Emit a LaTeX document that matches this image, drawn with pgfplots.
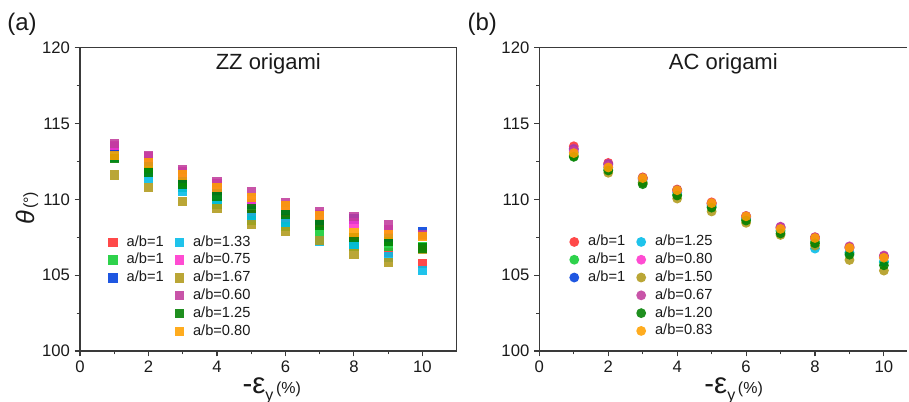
\documentclass[border=0pt]{standalone}
\usepackage{pgfplots}
\pgfplotsset{compat=1.18}
\usepackage{pgfplotstable}
\usepackage{fontspec}
\setmainfont{Liberation Sans}

\definecolor{cred}{HTML}{FF3030}
\definecolor{cgreen}{HTML}{11CC33}
\definecolor{cblue}{HTML}{0040DD}
\definecolor{ccyan}{HTML}{00BBE8}
\definecolor{cmag}{HTML}{FF33CC}
\definecolor{colive}{HTML}{B09A1A}
\definecolor{cpurp}{HTML}{C03C9C}
\definecolor{cdkgreen}{HTML}{008000}
\definecolor{corange}{HTML}{FFA000}
\definecolor{axisgray}{HTML}{3A3A3A}
\definecolor{txt}{HTML}{1A1A1A}

% ZZ origami, square markers
\pgfplotstableread{
x r g bl c m o p dg or
1 113.2 112.9 113.45 112.8 113.55 111.6 113.7 112.7 112.9
2 112.3 112.0 112.5 111.4 112.8 110.8 112.9 111.8 112.4
3 111.2 110.8 111.4 110.5 111.8 109.85 111.95 111.0 111.6
4 110.5 109.7 110.6 110.0 111.0 109.4 111.15 110.2 110.8
5 109.0 108.6 109.7 108.8 109.9 108.35 110.5 109.4 110.1
6 108.7 108.2 109.3 108.5 109.6 107.9 109.8 109.0 109.6
7 108.4 107.9 108.6 107.25 109.0 107.3 109.2 108.3 108.95
8 107.3 106.9 108.7 107.0 108.45 106.4 108.85 107.5 107.8
9 106.5 106.9 107.5 106.2 108.0 105.85 108.3 107.2 107.7
10 105.75 106.9 107.85 105.3 107.6 106.7 107.7 106.8 107.55
}\zzdata

% AC origami, round markers
\pgfplotstableread{
x r g bl c m o p dg or
1 113.5 112.85 113.3 113.1 113.2 112.9 113.35 112.8 113.05
2 112.4 111.95 112.3 112.1 112.2 111.75 112.35 111.9 112.1
3 111.45 111.1 111.4 111.3 111.35 111.1 111.4 111.0 111.4
4 110.65 110.3 110.6 110.45 110.55 110.05 110.6 110.25 110.6
5 109.8 109.5 109.7 109.6 109.7 109.2 109.75 109.45 109.75
6 108.9 108.7 108.85 108.8 108.85 108.45 108.9 108.6 108.88
7 108.1 107.9 108.15 107.95 108.15 107.65 108.2 107.75 108.05
8 107.5 107.2 107.45 106.75 107.4 106.95 107.5 107.1 107.45
9 106.85 106.45 106.8 106.5 106.8 106.0 106.9 106.35 106.8
10 106.25 105.85 106.2 105.9 106.2 105.3 106.3 105.65 106.15
}\acdata

\pgfplotsset{
  origami/.style={
    scale only axis, clip=false,
    height=227.5pt,
    xmin=0, ymin=100, ymax=120,
    xtick={0,2,...,10}, ytick={100,105,...,120},
    minor x tick num=1, minor y tick num=1,
    tick align=outside, tick pos=left,
    major tick length=4pt, minor tick length=2.5pt,
    axis line style={color=axisgray, line width=0.9pt},
    every tick/.append style={color=axisgray, line width=0.8pt},
    ticklabel style={font=\fontsize{12.5}{14}\selectfont, text=txt},
    /pgf/number format/assume math mode=true,
    legend columns=2,
    legend cell align=left,
    legend style={draw=none, fill=none, inner sep=0pt, anchor=north west,
      font=\fontsize{11}{13}\selectfont, text=txt, row sep=2.85pt,
      nodes={inner sep=0pt, text height=8.2pt, text depth=2.3pt},
      /tikz/every odd column/.append style={column sep=6.7pt},
      /tikz/every even column/.append style={column sep=8.25pt}},
  },
  sq/.style={only marks, color=#1, mark=square*, mark size=3.5pt,
    mark options={solid, draw=#1, draw opacity=0, fill=#1, fill opacity=0.88},
    legend image code/.code={\draw[mark repeat=2,mark phase=2,##1]
      plot coordinates {(0cm,0cm) (0.16cm,0cm) (0.32cm,0cm)};}},
  dot/.style={only marks, color=#1, mark=*, mark size=3.7pt,
    mark options={solid, draw=#1, draw opacity=0, fill=#1, fill opacity=0.88},
    legend image code/.code={\draw[mark repeat=2,mark phase=2,##1]
      plot coordinates {(0cm,0cm) (0.16cm,0cm) (0.32cm,0cm)};}},
  xlab/.style={xlabel={{\fontsize{22}{22}\selectfont -ε}{\fontsize{12}{12}\selectfont\raisebox{-5pt}{y}\,(\%)}},
    every axis x label/.style={at={(axis description cs:#1,0)}, anchor=base, yshift=-32pt, text=txt}},
}

\begin{document}
\begin{tikzpicture}
\path[use as bounding box] (-60pt,-38.25pt) rectangle (621.75pt,263.25pt);

% panel (a)
\begin{axis}[origami, at={(0pt,0pt)}, anchor=south west,
  width=282.5pt, xmax=11, xlab=0.509,
  ylabel={{\fontsize{19}{19}\selectfont\itshape θ}\,{\fontsize{12}{12}\selectfont(°)}},
  every axis y label/.style={at={(axis description cs:-0.14,0.47)}, rotate=90, anchor=center, text=txt},
  legend style={at={(axis cs:0.78,107.65)}},
]
\addplot[sq=cred, forget plot] table[x=x, y=r] {\zzdata};
\addplot[sq=cgreen, forget plot] table[x=x, y=g] {\zzdata};
\addplot[sq=cblue, forget plot] table[x=x, y=bl] {\zzdata};
\addplot[sq=ccyan, forget plot] table[x=x, y=c] {\zzdata};
\addplot[sq=cmag, forget plot] table[x=x, y=m] {\zzdata};
\addplot[sq=colive, forget plot] table[x=x, y=o] {\zzdata};
\addplot[sq=cpurp, forget plot] table[x=x, y=p] {\zzdata};
\addplot[sq=cdkgreen, forget plot] table[x=x, y=dg] {\zzdata};
\addplot[sq=corange, forget plot] table[x=x, y=or] {\zzdata};
\addlegendimage{sq=cred}\addlegendentry{a/b=1}
\addlegendimage{sq=ccyan}\addlegendentry{a/b=1.33}
\addlegendimage{sq=cgreen}\addlegendentry{a/b=1}
\addlegendimage{sq=cmag}\addlegendentry{a/b=0.75}
\addlegendimage{sq=cblue}\addlegendentry{a/b=1}
\addlegendimage{sq=colive}\addlegendentry{a/b=1.67}
\addlegendimage{empty legend}\addlegendentry{}
\addlegendimage{sq=cpurp}\addlegendentry{a/b=0.60}
\addlegendimage{empty legend}\addlegendentry{}
\addlegendimage{sq=cdkgreen}\addlegendentry{a/b=1.25}
\addlegendimage{empty legend}\addlegendentry{}
\addlegendimage{sq=corange}\addlegendentry{a/b=0.80}
\node[anchor=base, font=\fontsize{16.5}{18}\selectfont, text=txt] at (axis description cs:0.5,0.928) {ZZ origami};
\node[anchor=center, font=\fontsize{18}{20}\selectfont, text=txt] at (axis description cs:-0.154,1.077) {(a)};
\end{axis}

% panel (b)
\begin{axis}[origami, at={(344.5pt,0pt)}, anchor=south west,
  width=276pt, xmax=10.68, axis y line*=left, xlab=0.528,
  legend style={at={(axis cs:0.83,107.67)}},
]
\addplot[dot=cred, forget plot] table[x=x, y=r] {\acdata};
\addplot[dot=cgreen, forget plot] table[x=x, y=g] {\acdata};
\addplot[dot=cblue, forget plot] table[x=x, y=bl] {\acdata};
\addplot[dot=ccyan, forget plot] table[x=x, y=c] {\acdata};
\addplot[dot=cmag, forget plot] table[x=x, y=m] {\acdata};
\addplot[dot=colive, forget plot] table[x=x, y=o] {\acdata};
\addplot[dot=cpurp, forget plot] table[x=x, y=p] {\acdata};
\addplot[dot=cdkgreen, forget plot] table[x=x, y=dg] {\acdata};
\addplot[dot=corange, forget plot] table[x=x, y=or] {\acdata};
\addlegendimage{dot=cred}\addlegendentry{a/b=1}
\addlegendimage{dot=ccyan}\addlegendentry{a/b=1.25}
\addlegendimage{dot=cgreen}\addlegendentry{a/b=1}
\addlegendimage{dot=cmag}\addlegendentry{a/b=0.80}
\addlegendimage{dot=cblue}\addlegendentry{a/b=1}
\addlegendimage{dot=colive}\addlegendentry{a/b=1.50}
\addlegendimage{empty legend}\addlegendentry{}
\addlegendimage{dot=cpurp}\addlegendentry{a/b=0.67}
\addlegendimage{empty legend}\addlegendentry{}
\addlegendimage{dot=cdkgreen}\addlegendentry{a/b=1.20}
\addlegendimage{empty legend}\addlegendentry{}
\addlegendimage{dot=corange}\addlegendentry{a/b=0.83}
\node[anchor=base, font=\fontsize{16.5}{18}\selectfont, text=txt] at (axis description cs:0.5,0.928) {AC origami};
\node[anchor=center, font=\fontsize{18}{20}\selectfont, text=txt] at (axis description cs:-0.155,1.078) {(b)};
\end{axis}
\end{tikzpicture}
\end{document}
